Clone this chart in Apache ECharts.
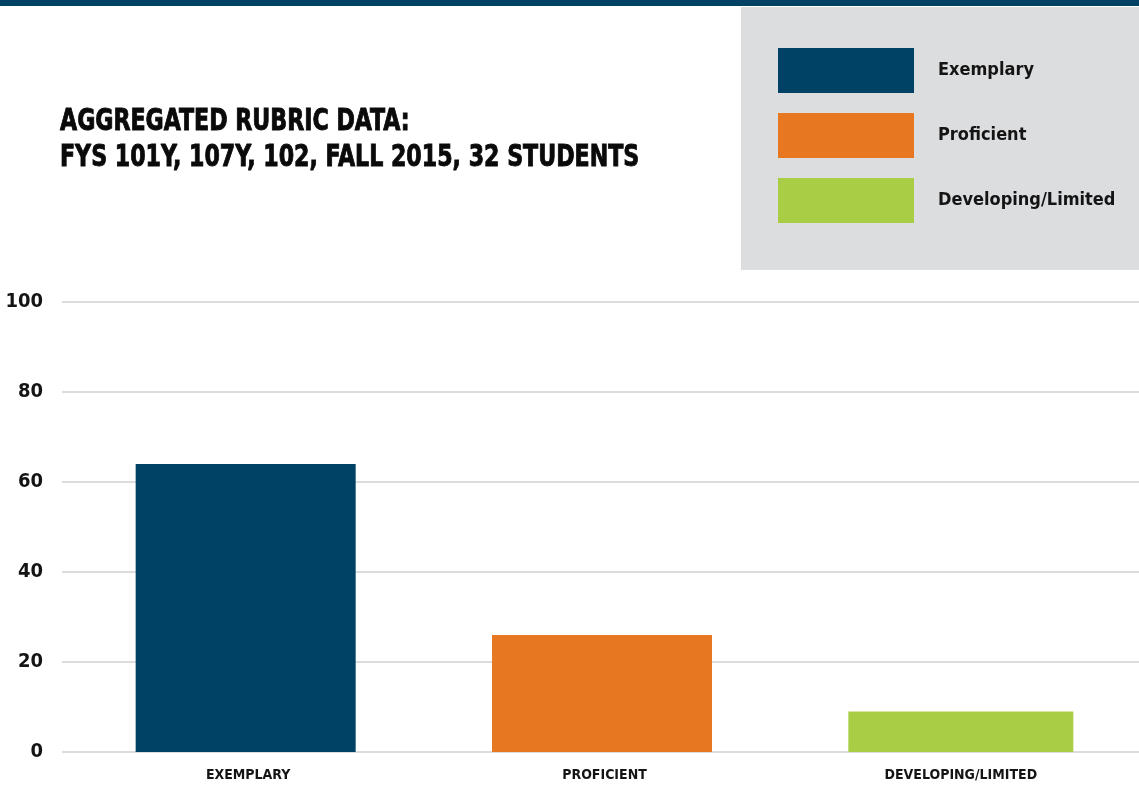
<!DOCTYPE html>
<html>
<head>
<meta charset="utf-8">
<title>Aggregated Rubric Data</title>
<script src="https://cdn.jsdelivr.net/npm/echarts@6/dist/echarts.min.js"></script>
<style>
  html, body { margin: 0; padding: 0; background: #ffffff; }
  #chart { width: 1139px; height: 786px; }
</style>
</head>
<body>
<div id="chart"></div>
<script>
// Rubric outcome levels and their share of scores (percent)
const categories = ['EXEMPLARY', 'PROFICIENT', 'DEVELOPING/LIMITED'];
const legendNames = ['Exemplary', 'Proficient', 'Developing/Limited'];
const values = [64, 26, 9];
const colors = ['#004266', '#E87722', '#A9CE45'];
const yTicks = [0, 20, 40, 60, 80, 100];
const titleLines = ['AGGREGATED RUBRIC DATA:', 'FYS 101Y, 107Y, 102, FALL 2015, 32 STUDENTS'];

const FONT = "'DejaVu Sans Condensed', 'Liberation Sans Narrow', sans-serif";
const INK = '#141414';

const chart = echarts.init(document.getElementById('chart'), null, { renderer: 'canvas' });

// one series per level so each gets its own legend entry; bars overlap in their slot
const series = categories.map((c, i) => ({
  name: legendNames[i],
  type: 'bar',
  xAxisIndex: 1,
  yAxisIndex: 1,
  barWidth: i === 2 ? 225 : 220,
  barGap: '-100%',
  itemStyle: { color: colors[i] },
  data: categories.map((_, j) => (j === i ? values[i] : '-')),
  silent: true
}));

chart.setOption({
  animation: false,
  backgroundColor: '#ffffff',
  color: colors,
  graphic: [
    // header rule and legend panel
    { type: 'rect', shape: { x: 0, y: 0, width: 1139, height: 6 }, style: { fill: '#004266' }, z: 0 },
    { type: 'rect', shape: { x: 741, y: 7, width: 398, height: 263 }, style: { fill: '#DCDDDF' }, z: -1 },
    // condensed, heavy heading
    {
      type: 'text',
      x: 60,
      y: 104,
      scaleX: 0.82,
      style: {
        text: titleLines.join('\n'),
        font: "bold 30px " + FONT,
        lineHeight: 36,
        fill: '#0a0a0a',
        stroke: '#0a0a0a',
        lineWidth: 0.9
      }
    }
  ],
  legend: {
    orient: 'vertical',
    left: 778,
    top: 48,
    padding: 0,
    itemWidth: 136,
    itemHeight: 45,
    itemGap: 20,
    icon: 'rect',
    selectedMode: false,
    data: legendNames,
    textStyle: {
      fontFamily: FONT,
      fontSize: 18,
      fontWeight: 'bold',
      color: INK,
      padding: [0, 0, 0, 19]
    }
  },
  grid: [
    { left: 62, right: 0, top: 302, bottom: 34, containLabel: false },
    { left: 70, right: 0, top: 302, bottom: 34, containLabel: false }
  ],
  xAxis: [
    {
      gridIndex: 0, type: 'category', data: categories, show: false
    },
    {
      gridIndex: 1,
      type: 'category',
      data: categories,
      axisLine: { show: false },
      axisTick: { show: false },
      axisLabel: {
        margin: 16,
        fontFamily: FONT,
        fontSize: 14,
        fontWeight: 'bold',
        color: INK
      }
    }
  ],
  yAxis: [
    {
      gridIndex: 0,
      type: 'value',
      min: yTicks[0],
      max: yTicks[yTicks.length - 1],
      interval: 20,
      axisLine: { show: false },
      axisTick: { show: false },
      splitLine: { lineStyle: { color: '#DCDCDC', width: 2 } },
      axisLabel: {
        margin: 19,
        fontFamily: FONT,
        fontSize: 20,
        fontWeight: 'bold',
        color: INK
      }
    },
    {
      gridIndex: 1,
      type: 'value',
      min: yTicks[0],
      max: yTicks[yTicks.length - 1],
      interval: 20,
      show: false,
      splitLine: { show: false }
    }
  ],
  series: series
});
</script>
</body>
</html>
